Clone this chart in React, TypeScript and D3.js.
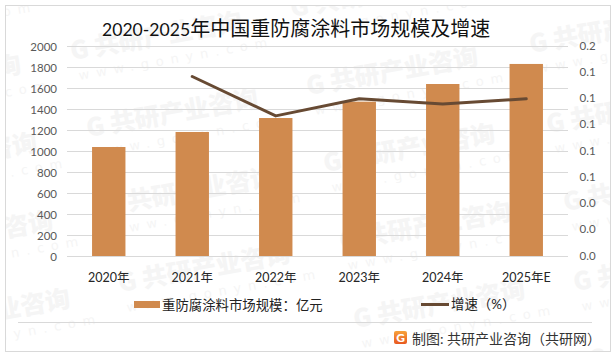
import React from "react";
import * as d3 from "d3";

const categories = ["2020年", "2021年", "2022年", "2023年", "2024年", "2025年E"];
const marketSize = [1038, 1181, 1314, 1470, 1638, 1829];
const growth = [null, 0.136, 0.106, 0.119, 0.115, 0.119];
const leftTicks = [0, 200, 400, 600, 800, 1000, 1200, 1400, 1600, 1800, 2000];
const rightTicks = [0, 0.02, 0.04, 0.06, 0.08, 0.1, 0.12, 0.14, 0.16];
// watermark anchors [x, y]
const marks = [
  [-165, 25], [-149, 103], [-133, 181], [-117, 259], [-100, 337],
  [56, -18], [72, 60], [88, 137], [105, 215], [120, 292],
  [292, 17], [308, 95], [325, 172], [341, 250], [355, 328],
  [531, 53], [548, 133], [565, 211], [575, 291], [590, 369],
];

const W = 616, H = 357;
const latin = "Lato,'Noto Sans CJK SC',sans-serif";

export default function App() {
  const x = d3.scaleBand<string>().domain(categories).range([67, 568]).paddingInner(0.6).paddingOuter(0.3);
  const y = d3.scaleLinear().domain([0, 2000]).range([256, 46]);
  const y2 = d3.scaleLinear().domain([0, 0.16]).range([255, 45]);
  const line = d3.line<number | null>()
    .defined((d) => d !== null)
    .x((_, i) => x(categories[i])! + x.bandwidth() / 2)
    .y((d) => y2(d as number));
  return (
    <svg width={W} height={H} viewBox={`0 0 ${W} ${H}`}
      style={{ position: "fixed", left: 0, top: 0, background: "#fff", fontFamily: latin }}>
      <defs>
        <linearGradient id="logo" x1="0" y1="0" x2="0" y2="1">
          <stop offset="0" stopColor="#f7a23b" />
          <stop offset="1" stopColor="#e8581f" />
        </linearGradient>
      </defs>
      <rect x={5.5} y={5.5} width={605} height={346} fill="#fff" stroke="#d9d9d9" strokeWidth={1} />
      <svg x={6} y={6} width={604} height={345} viewBox="6 6 604 345">
        {marks.map(([mx, my], i) => (
          <g key={i} transform={`translate(${mx},${my}) rotate(-10)`} fill="#f5f5f5">
            <text fontSize={25} fontWeight={900} fontFamily="'Noto Sans CJK SC'">G 共研产业咨询</text>
            <text x={4} y={21} fontSize={13} letterSpacing={7} fontFamily="'DejaVu Sans'">www.gonyn.com</text>
          </g>
        ))}
      </svg>
      {leftTicks.map((t) => (
        <g key={t}>
          <line x1={67} x2={568} y1={y(t) + 0.5} y2={y(t) + 0.5} stroke="#d9d9d9" strokeWidth={1} />
          <text x={57} y={y(t) + 4.5} textAnchor="end" fontSize={11.5} fill="#595959">{t}</text>
        </g>
      ))}
      {rightTicks.map((t) => (
        <text key={t} x={579.5} y={y2(t) + 4.5} fontSize={11.5} fill="#595959">{t.toFixed(1)}</text>
      ))}
      {categories.map((c, i) => (
        <rect key={c} x={x(c)} y={y(marketSize[i])} width={x.bandwidth()} height={256 - y(marketSize[i])} fill="#d08a4e" />
      ))}
      <path d={line(growth) ?? ""} fill="none" stroke="#674a33" strokeWidth={3} strokeLinecap="round" strokeLinejoin="round" />
      {categories.map((c) => (
        <text key={c} x={x(c)! + x.bandwidth() / 2} y={282} textAnchor="middle" fontSize={12.5} fill="#262626">{c}</text>
      ))}
      <text x={102} y={36} fontSize={20} fill="#111">
        <tspan fontSize={17.6}>2020-2025</tspan>年中国重防腐涂料市场规模及增速
      </text>
      <rect x={134} y={301} width={26} height={7} fill="#d08a4e" />
      <text x={162} y={310} fontSize={13.4} fill="#222">重防腐涂料市场规模：亿元</text>
      <line x1={421} x2={449} y1={304.5} y2={304.5} stroke="#674a33" strokeWidth={3} />
      <text x={451} y={309} fontSize={13.4} fill="#222">增速（%）</text>
      <line x1={18} x2={592} y1={322.5} y2={322.5} stroke="#d9d9d9" />
      <rect x={394} y={331} width={13} height={13} rx={2} fill="url(#logo)" />
      <text x={400.5} y={342} textAnchor="middle" fontSize={12} fontWeight={900} fill="#fff">G</text>
      <text x={412} y={344} fontSize={14} fill="#333">制图: 共研产业咨询（共研网）</text>
    </svg>
  );
}
